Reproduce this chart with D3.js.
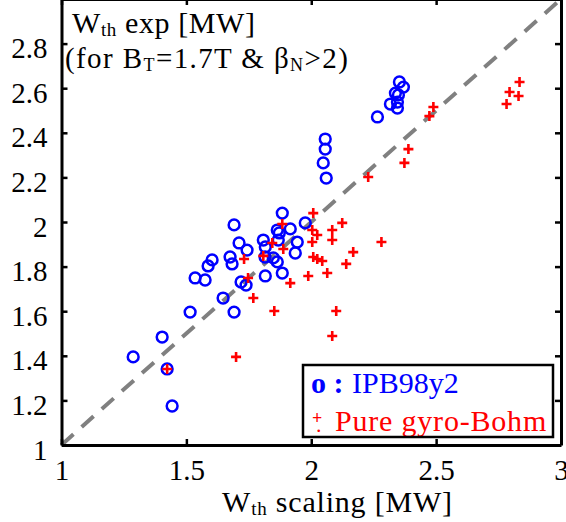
<!DOCTYPE html>
<html lang="en">
<head>
<meta charset="utf-8">
<title>W_th exp vs scaling</title>
<script src="https://d3js.org/d3.v7.min.js"></script>
<style>
  body { margin: 0; background: #fff; }
  svg text { font-family: "Liberation Serif", "Times New Roman", Times, Tinos, "DejaVu Serif", "Noto Serif", serif; }
</style>
</head>
<body>
<script>
// IPB98y2 scaling (blue circles)
var ipbX = [1.287, 1.403, 1.423, 1.443, 1.515, 1.535, 1.575, 1.587, 1.603, 1.647,
            1.675, 1.683, 1.691, 1.691, 1.711, 1.719, 1.739, 1.743, 1.808, 1.816,
            1.816, 1.815, 1.848, 1.864, 1.884, 1.864, 1.872, 1.884, 1.916, 1.944,
            1.936, 1.976, 1.868, 2.056, 2.056, 2.048, 2.060, 2.265, 2.317, 2.345,
            2.345, 2.337, 2.349, 2.353, 2.369];
var ipbY = [1.395, 1.484, 1.341, 1.175, 1.596, 1.749, 1.740, 1.803, 1.830, 1.659,
            1.843, 1.812, 1.987, 1.596, 1.906, 1.731, 1.717, 1.874, 1.919, 1.888,
            1.758, 1.843, 1.839, 1.821, 1.771, 1.964, 1.951, 2.040, 1.969, 1.910,
            1.861, 1.996, 1.919, 2.372, 2.327, 2.265, 2.197, 2.471, 2.529, 2.538,
            2.511, 2.578, 2.570, 2.628, 2.605];

// pure gyro-Bohm scaling (red pluses)
var gbX = [1.423, 1.699, 1.731, 1.747, 1.768, 1.808, 1.844, 1.852, 1.884, 1.888,
           1.916, 1.988, 2.008, 2.004, 2.024, 2.004, 2.008, 2.024, 2.044, 2.064,
           2.084, 2.084, 2.124, 2.140, 2.100, 2.084, 2.168, 2.281, 2.228, 2.373,
           2.389, 2.473, 2.489, 2.782, 2.794, 2.830, 2.834];
var gbY = [1.341, 1.395, 1.834, 1.749, 1.659, 1.848, 1.906, 1.601, 1.991, 1.879,
           1.726, 1.758, 2.040, 1.964, 1.942, 1.910, 1.843, 1.834, 1.825, 1.771,
           1.964, 1.919, 1.996, 1.812, 1.601, 1.489, 1.865, 1.910, 2.202, 2.265,
           2.327, 2.475, 2.516, 2.529, 2.583, 2.565, 2.628];

var xTicks = [1, 1.5, 2, 2.5, 3];
var yTicks = [1, 1.2, 1.4, 1.6, 1.8, 2, 2.2, 2.4, 2.6, 2.8];

var width = 566, height = 522;

var svg = d3.select("body").append("svg")
    .attr("width", width)
    .attr("height", height);

var x = d3.scaleLinear().domain([1, 3]).range([61.5, 561]);
var y = d3.scaleLinear().domain([1, 3]).range([445, -1]);

// identity line
svg.append("line")
    .attr("x1", x(1)).attr("y1", y(1))
    .attr("x2", x(3)).attr("y2", y(3))
    .attr("stroke", "#808080")
    .attr("stroke-width", 4)
    .attr("stroke-dasharray", "16,11");

// markers
var ipb = ipbX.map(function(v, i) { return [v, ipbY[i]]; });
var gb = gbX.map(function(v, i) { return [v, gbY[i]]; });

svg.append("g").selectAll("circle")
    .data(ipb)
    .enter().append("circle")
    .attr("cx", function(d) { return x(d[0]); })
    .attr("cy", function(d) { return y(d[1]); })
    .attr("r", 5.4)
    .attr("fill", "none")
    .attr("stroke", "#0000ff")
    .attr("stroke-width", 2.5);

svg.append("g").selectAll("path")
    .data(gb)
    .enter().append("path")
    .attr("d", function(d) {
        var cx = x(d[0]), cy = y(d[1]), s = 5;
        return "M" + (cx - s) + "," + cy + "H" + (cx + s) + "M" + cx + "," + (cy - s) + "V" + (cy + s);
    })
    .attr("stroke", "#ff0000")
    .attr("stroke-width", 2.6)
    .attr("fill", "none");

// axes (ticks pointing inward on all four sides)
var fmt = function(d) { return String(d); };

var gBottom = svg.append("g")
    .attr("transform", "translate(0," + y(1) + ")")
    .call(d3.axisBottom(x).tickValues(xTicks).tickSize(-6).tickSizeOuter(0).tickFormat(fmt));
gBottom.selectAll("text")
    .attr("y", 35).attr("dy", 0)
    .attr("font-size", 29);

var gLeft = svg.append("g")
    .attr("transform", "translate(" + x(1) + ",0)")
    .call(d3.axisLeft(y).tickValues(yTicks).tickSize(-6).tickSizeOuter(0).tickFormat(fmt));
gLeft.selectAll("text")
    .attr("x", -14).attr("dy", 14)
    .attr("font-size", 29);

svg.append("g")
    .attr("transform", "translate(0," + y(3) + ")")
    .call(d3.axisTop(x).tickValues(xTicks).tickSize(-6).tickSizeOuter(0).tickFormat(""));

svg.append("g")
    .attr("transform", "translate(" + x(3) + ",0)")
    .call(d3.axisRight(y).tickValues(yTicks).tickSize(-6).tickSizeOuter(0).tickFormat(""));

svg.selectAll(".domain").attr("stroke", "#000").attr("stroke-width", 3);
svg.selectAll(".tick line").attr("stroke", "#000").attr("stroke-width", 2.5);
svg.selectAll(".tick text").attr("fill", "#000");

// x label
var xl = svg.append("text")
    .attr("x", 222).attr("y", 512)
    .attr("font-size", 30)
    .attr("letter-spacing", 0.8)
    .attr("fill", "#000");
xl.append("tspan").text("W");
xl.append("tspan").attr("font-size", 19).attr("dy", 3).text("th");
xl.append("tspan").attr("dy", -3).text(" scaling [MW]");

// y annotation in the top-left corner
var t1 = svg.append("text")
    .attr("x", 72).attr("y", 33)
    .attr("font-size", 30)
    .attr("letter-spacing", 0.6)
    .attr("fill", "#000");
t1.append("tspan").text("W");
t1.append("tspan").attr("font-size", 19).attr("dy", 3).text("th");
t1.append("tspan").attr("dy", -3).text(" exp [MW]");

var t2 = svg.append("text")
    .attr("x", 65).attr("y", 68)
    .attr("font-size", 29)
    .attr("letter-spacing", 1.4)
    .attr("fill", "#000");
t2.append("tspan").text("(for B");
t2.append("tspan").attr("font-size", 18).attr("dy", 3).text("T");
t2.append("tspan").attr("dy", -3).text("=1.7T & \u03b2");
t2.append("tspan").attr("font-size", 18).attr("dy", 3).text("N");
t2.append("tspan").attr("dy", -3).text(">2)");

// legend
var lg = svg.append("g");
svg.append("clipPath").attr("id", "legclip")
  .append("rect").attr("x", 303).attr("y", 365).attr("width", 250).attr("height", 72);
lg.append("rect")
    .attr("x", 303).attr("y", 365).attr("width", 250).attr("height", 72)
    .attr("fill", "#fff");
var lt = lg.append("g").attr("clip-path", "url(#legclip)");
lt.append("text")
    .attr("x", 311).attr("y", 393)
    .attr("font-size", 30).attr("font-weight", "bold")
    .attr("fill", "#0000ff")
    .text("o :");
lt.append("text")
    .attr("x", 352).attr("y", 393)
    .attr("font-size", 30)
    .attr("fill", "#0000ff")
    .text("IPB98y2");
lt.append("text")
    .attr("x", 312).attr("y", 424)
    .attr("font-size", 18).attr("font-weight", "bold")
    .attr("fill", "#ff0000")
    .text("+");
lt.append("text")
    .attr("x", 316).attr("y", 432)
    .attr("font-size", 22)
    .attr("fill", "#ff0000")
    .text(".");
lt.append("text")
    .attr("x", 335).attr("y", 431)
    .attr("font-size", 30)
    .attr("letter-spacing", 0.8)
    .attr("fill", "#ff0000")
    .text("Pure gyro-Bohm");
lg.append("rect")
    .attr("x", 303).attr("y", 365).attr("width", 250).attr("height", 72)
    .attr("fill", "none")
    .attr("stroke", "#000")
    .attr("stroke-width", 2.5);
</script>
</body>
</html>
